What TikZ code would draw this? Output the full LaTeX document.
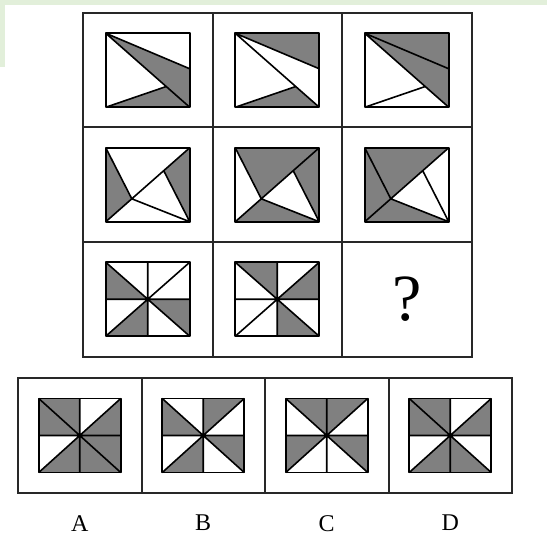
\documentclass[tikz,border=0pt]{standalone}
\usepackage{fontspec}
\setmainfont{Liberation Serif}
\usetikzlibrary{calc,positioning}
\definecolor{PanelGray}{RGB}{128,128,128}
\definecolor{FrameDark}{RGB}{40,40,40}
\definecolor{BandGreen}{RGB}{226,239,218}
\tikzset{
  cellbox/.style={draw=FrameDark,line width=2pt,minimum width=129.5pt,
    minimum height=114.5pt,inner sep=0pt,outer sep=0pt},
  optbox/.style={draw=FrameDark,line width=2pt,minimum width=123.5pt,
    minimum height=115pt,inner sep=0pt,outer sep=0pt},
  figarea/.style={minimum width=84pt,minimum height=74pt,inner sep=0pt,outer sep=0pt},
  optarea/.style={figarea,minimum width=82pt},
  figline/.style={draw=black,line width=1.6pt,line join=round},
  darkpart/.style={fill=PanelGray},
  optlabel/.style={font=\fontsize{24}{24}\selectfont,inner sep=0pt},
}
% points of the slanted figures (row 1)
\newcommand{\slantpts}[1]{%
  \coordinate (#1-r) at ($(#1.north east)!0.48!(#1.south east)$);
  \coordinate (#1-p) at ($(#1.north west)!0.72!(#1.south east)$);}
\newcommand{\slantlines}[1]{%
  \draw[figline] (#1.north west) -- (#1-r) (#1.north west) -- (#1.south east)
    (#1.south west) -- (#1-p);
  \draw[figline] (#1.north west) rectangle (#1.south east);}
% points of the kite figures (row 2)
\newcommand{\kitepts}[1]{%
  \coordinate (#1-q) at ($(#1.south west)!0.31!(#1.north east)$);
  \coordinate (#1-s) at ($(#1.south west)!0.69!(#1.north east)$);}
\newcommand{\kitelines}[1]{%
  \draw[figline] (#1.south west) -- (#1.north east) (#1.north west) -- (#1-q)
    -- (#1.south east) (#1-s) -- (#1.south east);
  \draw[figline] (#1.north west) rectangle (#1.south east);}
% eight sectors, numbered clockwise from the top left corner
\newcommand{\pinwheel}[2]{%
  \coordinate (#1-1) at (#1.north west); \coordinate (#1-2) at (#1.north);
  \coordinate (#1-3) at (#1.north east); \coordinate (#1-4) at (#1.east);
  \coordinate (#1-5) at (#1.south east); \coordinate (#1-6) at (#1.south);
  \coordinate (#1-7) at (#1.south west); \coordinate (#1-8) at (#1.west);
  \coordinate (#1-9) at (#1.north west);
  \foreach \s in {#2} {\pgfmathtruncatemacro\t{\s+1}
    \fill[darkpart] (#1.center) -- (#1-\s) -- (#1-\t) -- cycle;}
  \draw[figline] (#1.north west) -- (#1.south east) (#1.north east) -- (#1.south west)
    (#1.north) -- (#1.south) (#1.west) -- (#1.east);
  \fill (#1.center) circle (2);
  \draw[figline] (#1.north west) rectangle (#1.south east);}

\begin{document}
\begin{tikzpicture}[x=1pt,y=-1pt]
\useasboundingbox (0,0) rectangle (547,535);
\fill[BandGreen] (0,0) rectangle (547,5);
\fill[BandGreen] (0,0) rectangle (5,67);
% question grid
\node[cellbox] (c11) at (147.75,70.25) {};
\node[cellbox] (c12) at (277.25,70.25) {};
\node[cellbox] (c13) at (406.75,70.25) {};
\node[cellbox] (c21) at (147.75,184.75) {};
\node[cellbox] (c22) at (277.25,184.75) {};
\node[cellbox] (c23) at (406.75,184.75) {};
\node[cellbox] (c31) at (147.75,299.25) {};
\node[cellbox] (c32) at (277.25,299.25) {};
\node[cellbox] (c33) at (406.75,299.25) {};
\node[figarea] (f11) at (c11) {};
\node[figarea] (f12) at (c12) {};
\node[figarea] (f13) at (c13) {};
\node[figarea] (f21) at (c21) {};
\node[figarea] (f22) at (c22) {};
\node[figarea] (f23) at (c23) {};
\node[figarea] (f31) at (c31) {};
\node[figarea] (f32) at (c32) {};
% row 1
\slantpts{f11} \slantpts{f12} \slantpts{f13}
\fill[darkpart] (f11.north west) -- (f11-r) -- (f11.south east) -- cycle;
\fill[darkpart] (f11.south west) -- (f11-p) -- (f11.south east) -- cycle;
\fill[darkpart] (f12.north west) -- (f12.north east) -- (f12-r) -- cycle;
\fill[darkpart] (f12.south west) -- (f12-p) -- (f12.south east) -- cycle;
\fill[darkpart] (f13.north west) -- (f13.north east) -- (f13.south east) -- cycle;
\slantlines{f11} \slantlines{f12} \slantlines{f13}
% row 2
\kitepts{f21} \kitepts{f22} \kitepts{f23}
\fill[darkpart] (f21.north west) -- (f21.south west) -- (f21-q) -- cycle;
\fill[darkpart] (f21-s) -- (f21.north east) -- (f21.south east) -- cycle;
\fill[darkpart] (f22.north west) -- (f22.north east) -- (f22-q) -- cycle;
\fill[darkpart] (f22-s) -- (f22.north east) -- (f22.south east) -- cycle;
\fill[darkpart] (f22.south west) -- (f22.south east) -- (f22-q) -- cycle;
\fill[darkpart] (f23.north west) -- (f23.north east) -- (f23-q) -- cycle;
\fill[darkpart] (f23.north west) -- (f23.south west) -- (f23-q) -- cycle;
\fill[darkpart] (f23.south west) -- (f23.south east) -- (f23-q) -- cycle;
\kitelines{f21} \kitelines{f22} \kitelines{f23}
% row 3
\pinwheel{f31}{4,6,8}
\pinwheel{f32}{1,3,5}
\node[font=\fontsize{66}{66}\selectfont] (qmark) at (c33) {?};
% answer options
\node[optbox] (oA) at (79.75,435.5) {};
\node[optbox] (oB) at (203.25,435.5) {};
\node[optbox] (oC) at (326.75,435.5) {};
\node[optbox] (oD) at (450.25,435.5) {};
\node[optarea] (gA) at (oA) {};
\node[optarea] (gB) at (oB) {};
\node[optarea] (gC) at (oC) {};
\node[optarea] (gD) at (oD) {};
\pinwheel{gA}{1,3,4,5,6,8}
\pinwheel{gB}{2,4,6,8}
\pinwheel{gC}{1,2,4,7}
\pinwheel{gD}{1,3,5,6,8}
\node[optlabel,below=22pt of oA] (lA) {A};
\node[optlabel,below=22pt of oB] (lB) {B};
\node[optlabel,below=22pt of oC] (lC) {C};
\node[optlabel,below=22pt of oD] (lD) {D};
\end{tikzpicture}
\end{document}
